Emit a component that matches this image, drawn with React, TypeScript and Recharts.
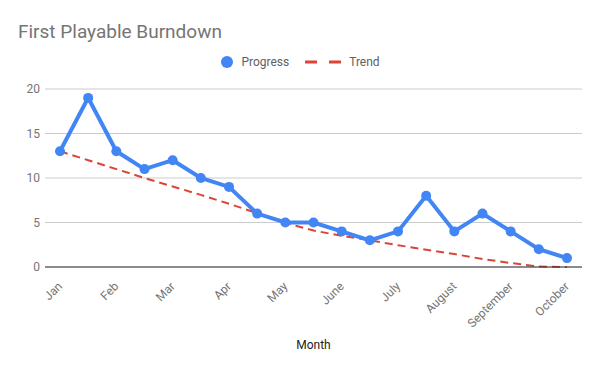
import { LineChart, Line, XAxis, YAxis, CartesianGrid } from "recharts";

// one point per half month, labels on every second point
const points = [0, 1, 2, 3, 4, 5, 6, 7, 8, 9, 10, 11, 12, 13, 14, 15, 16, 17, 18];
const progress = [13, 19, 13, 11, 12, 10, 9, 6, 5, 5, 4, 3, 4, 8, 4, 6, 4, 2, 1];
const trend = [13, 12, 11, 10, 9.05, 8.1, 7.1, 6.05, 4.95, 4.1, 3.5, 3.0, 2.45, 1.95, 1.45, 0.9, 0.45, 0.05, 0];
const monthTicks = [0, 2, 4, 6, 8, 10, 12, 14, 16, 18];
const months = ["Jan", "Feb", "Mar", "Apr", "May", "June", "July", "August", "September", "October"];
const yTicks = [0, 5, 10, 15, 20];

const data = points.map((p, i) => ({ idx: p, progress: progress[i], trend: trend[i] }));

const FONT = "Roboto, Arial, sans-serif";

function MonthTick(props: any) {
  const { x, y, payload } = props;
  const label = months[monthTicks.indexOf(payload.value)] ?? "";
  return (
    <text
      x={x + 3}
      y={y + 12}
      transform={`rotate(-45, ${x + 3}, ${y + 12})`}
      textAnchor="end"
      fontSize={12}
      fontFamily={FONT}
      fill="#757575"
    >
      {label}
    </text>
  );
}

export default function App() {
  return (
    <div style={{ position: "absolute", left: 0, top: 0, width: 600, height: 371, background: "#fff", fontFamily: FONT }}>
      <div style={{ position: "absolute", left: 18, top: 20, fontSize: 19, color: "#757575" }}>
        First Playable Burndown
      </div>
      <div style={{ position: "absolute", left: 0, top: 55, width: 600, display: "flex", justifyContent: "center", alignItems: "center", fontSize: 12, color: "#616161" }}>
        <svg width={14} height={14} style={{ marginRight: 7 }}>
          <circle cx={7} cy={7} r={6} fill="#4285F4" />
        </svg>
        <span style={{ marginRight: 16 }}>Progress</span>
        <svg width={36} height={6} style={{ marginRight: 8 }}>
          <line x1={0} y1={3} x2={36} y2={3} stroke="#DB4437" strokeWidth={3} strokeDasharray="12 12" />
        </svg>
        <span>Trend</span>
      </div>
      <div style={{ position: "absolute", left: 0, top: 0 }}>
        <LineChart width={600} height={371} data={data} margin={{ top: 89, right: 18, bottom: 0, left: 0 }}>
          <CartesianGrid vertical={false} stroke="#cccccc" />
          <XAxis
            dataKey="idx"
            type="number"
            domain={[0, 18]}
            ticks={monthTicks}
            interval={0}
            padding={{ left: 15, right: 15 }}
            height={104}
            tickLine={false}
            axisLine={{ stroke: "#333333" }}
            tick={<MonthTick />}
            label={{ value: "Month", position: "insideBottom", offset: 22, fontSize: 12, fill: "#222222", fontFamily: FONT }}
          />
          <YAxis
            domain={[0, 20]}
            ticks={yTicks}
            width={45}
            axisLine={false}
            tickLine={false}
            tick={{ fontSize: 12, fill: "#757575", fontFamily: FONT, dx: 3 }}
          />
          <Line
            type="linear"
            dataKey="trend"
            stroke="#DB4437"
            strokeWidth={2}
            strokeDasharray="8 5"
            dot={false}
            isAnimationActive={false}
          />
          <Line
            type="linear"
            dataKey="progress"
            stroke="#4285F4"
            strokeWidth={4}
            dot={{ r: 5, fill: "#4285F4", stroke: "none" }}
            isAnimationActive={false}
          />
        </LineChart>
      </div>
    </div>
  );
}
